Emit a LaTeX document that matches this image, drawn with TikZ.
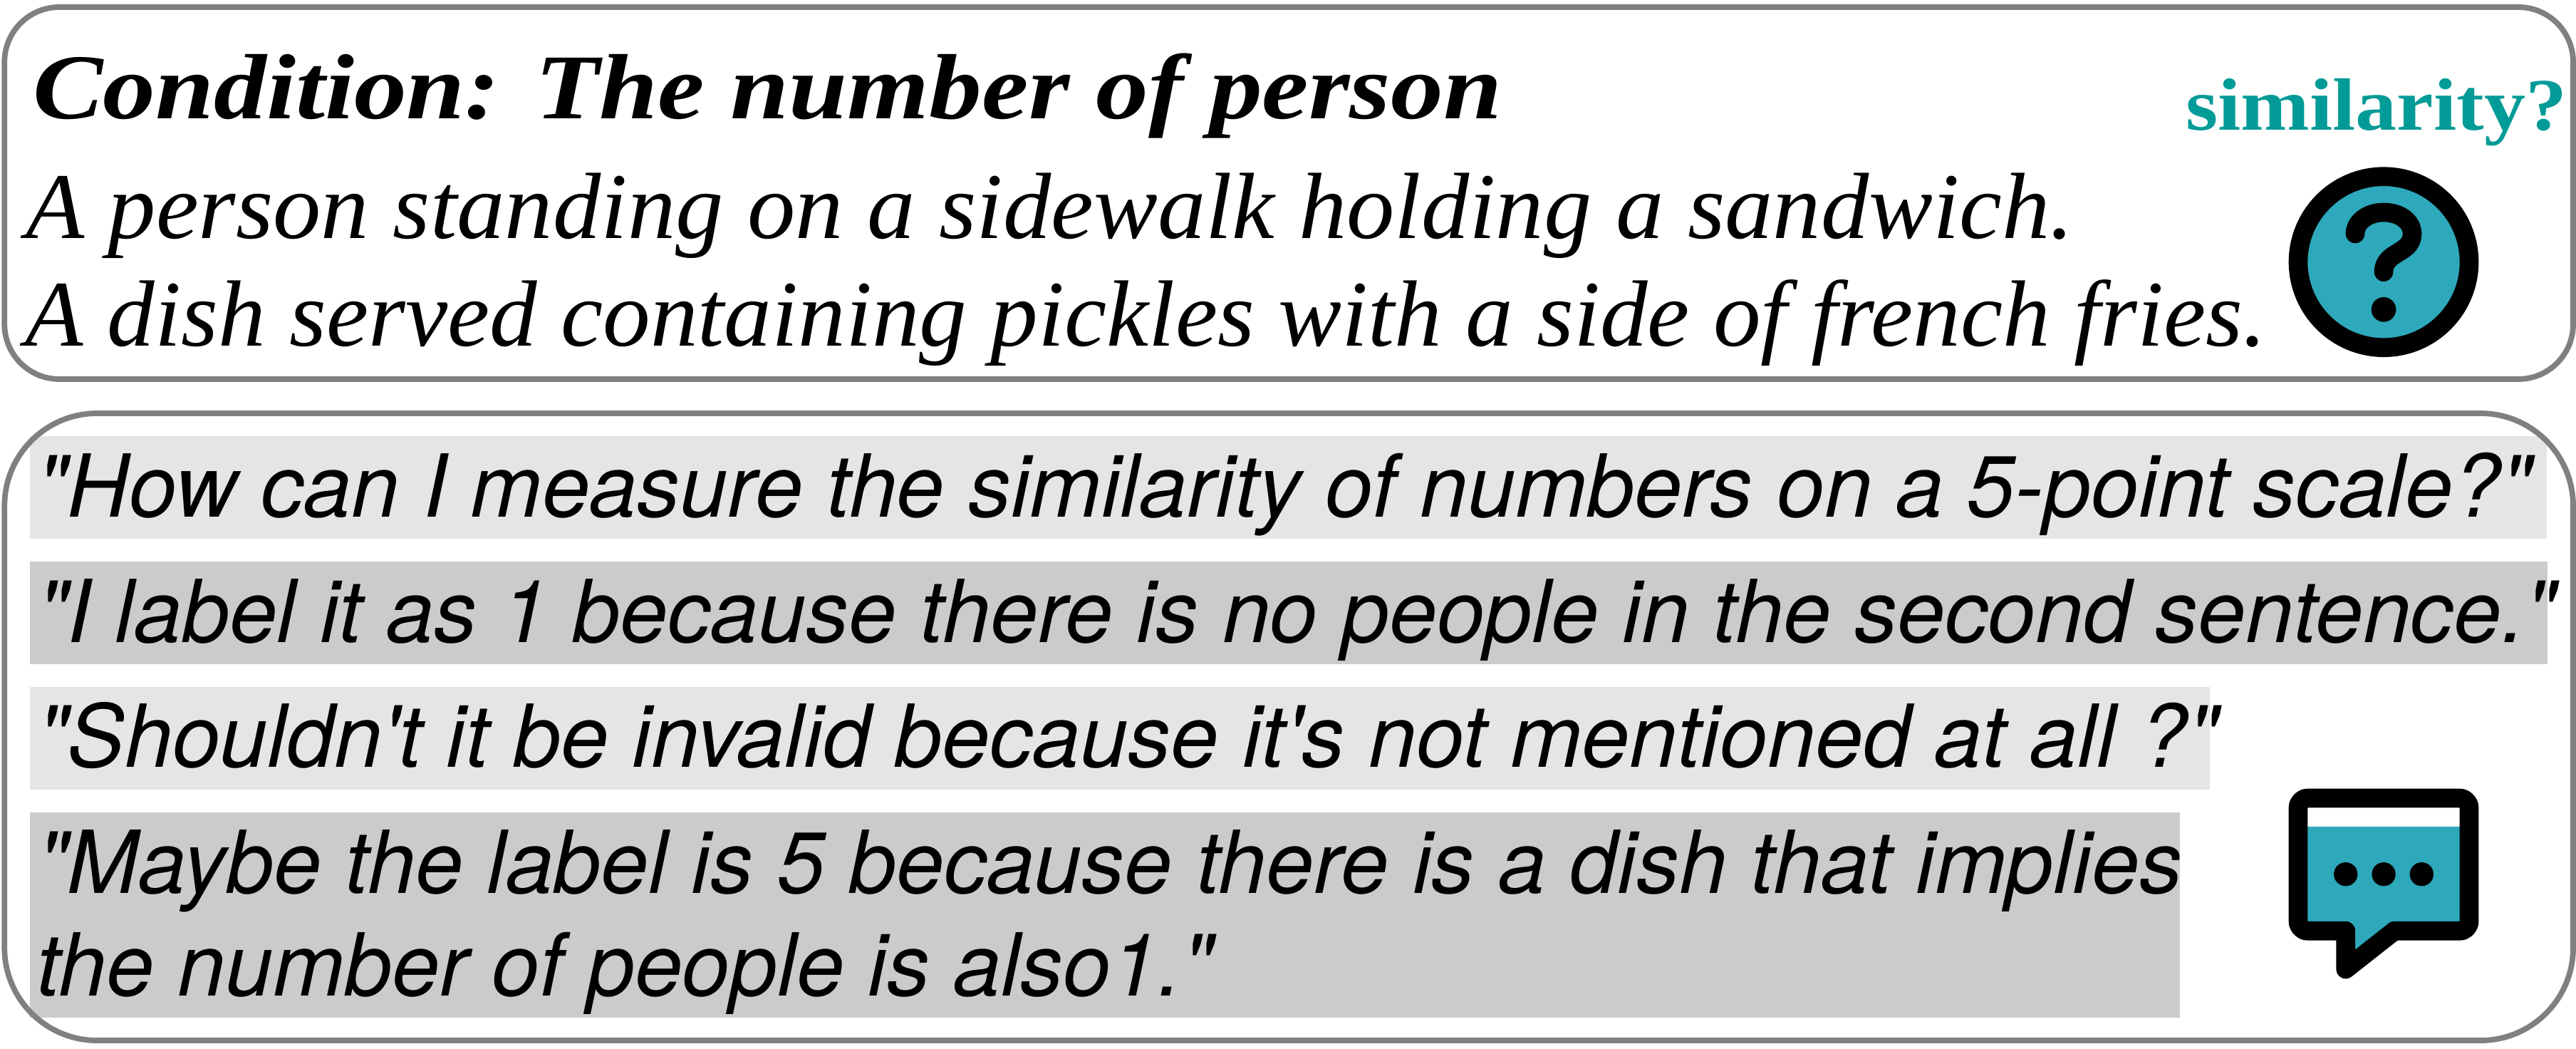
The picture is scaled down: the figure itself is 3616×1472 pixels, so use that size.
\documentclass[tikz,border=0pt]{standalone}
\usepackage{fontspec}
\usepackage{graphicx}
\setmainfont{Liberation Serif}
\newfontfamily\heros{TeX Gyre Heros}
\definecolor{framegray}{HTML}{808080}
\definecolor{barlight}{HTML}{E5E5E5}
\definecolor{bardark}{HTML}{CBCBCB}
\definecolor{tealtxt}{HTML}{029B98}
\definecolor{iconblue}{HTML}{2DA9BB}
\newcommand{\fitw}[2]{\resizebox{#1}{\height}{#2}}
\tikzset{
  frame/.style={draw=framegray,line width=3.9pt},
  txt/.style={anchor=base west,inner sep=0pt,outer sep=0pt},
  icon/.style={draw=black,line width=13.33pt,line cap=round,line join=round},
  serifline/.style={txt,font=\fontsize{66}{66}\selectfont\itshape},
  sansline/.style={txt,font=\fontsize{61}{61}\selectfont\heros\itshape},
}
\begin{document}
\begin{tikzpicture}[x=0.5pt,y=-0.5pt]
\useasboundingbox (0,0) rectangle (3616,1472);
\fill[white] (0,0) rectangle (3616,1472);
\fill[barlight] (42,612) rectangle (3575,755.7);
\fill[bardark] (42,788) rectangle (3576,931.7);
\fill[barlight] (42,964) rectangle (3102,1107.7);
\fill[bardark] (42,1140) rectangle (3060,1427.7);
\draw[frame,rounded corners=38.5pt] (6.3,10) rectangle (3612,532);
\draw[frame,rounded corners=65pt] (6.3,580) rectangle (3612,1460);
\node[txt,font=\fontsize{65}{65}\selectfont\bfseries\itshape] (cond) at (46,166.7) {\fitw{1031pt}{Condition: The number of person}};
\node[serifline] (l1) at (36,334) {\fitw{1437.5pt}{A person standing on a sidewalk holding a sandwich.}};
\node[serifline] (l2) at (36,485) {\fitw{1572.5pt}{A dish served containing pickles with a side of french fries.}};
\node[txt,text=tealtxt,font=\fontsize{52}{52}\selectfont\bfseries] (sim) at (3068,182) {\fitw{267.5pt}{similarity?}};
\node[sansline] (s1) at (52,725) {\fitw{1750.5pt}{"How can I measure the similarity of numbers on a 5-point scale?"}};
\node[sansline] (s2) at (52,901.7) {\fitw{1767.5pt}{"I label it as 1 because there is no people in the second sentence."}};
\node[sansline] (s3) at (52,1076.7) {\fitw{1530.5pt}{"Shouldn't it be invalid because it's not mentioned at all ?"}};
\node[sansline] (s4) at (52,1253.3) {\fitw{1505.5pt}{"Maybe the label is 5 because there is a dish that implies}};
\node[sansline] (s5) at (51,1397.3) {\fitw{825.5pt}{the number of people is also1."}};
% question icon
\draw[icon,fill=iconblue] (3346,367.7) circle (60pt);
\draw[icon] (3306,328) .. controls (3306,311) and (3324,298) .. (3346,298)
  .. controls (3369,298) and (3386,311) .. (3386,328)
  .. controls (3386,357) and (3346,352) .. (3346,381.7);
\fill[black] (3346,434.3) circle (8.67pt);
% speech icon
\fill[iconblue] (3226,1120) rectangle (3466,1306);
\fill[iconblue] (3292.7,1300) -- (3292.7,1360) -- (3368,1300) -- cycle;
\fill[white] (3239.3,1133.3) rectangle (3452.7,1160);
\draw[icon,rounded corners=6.67pt] (3292.7,1306.3) -- (3226,1306.3) -- (3226,1120) -- (3466,1120) -- (3466,1306.3) -- (3361,1306.3);
\draw[icon] (3361,1306.3) -- (3292.7,1360) -- (3292.7,1306.3);
\fill[black] (3292.7,1226.7) circle (8.33pt);
\fill[black] (3346,1226.7) circle (8.33pt);
\fill[black] (3399.3,1226.7) circle (8.33pt);
\end{tikzpicture}
\end{document}
